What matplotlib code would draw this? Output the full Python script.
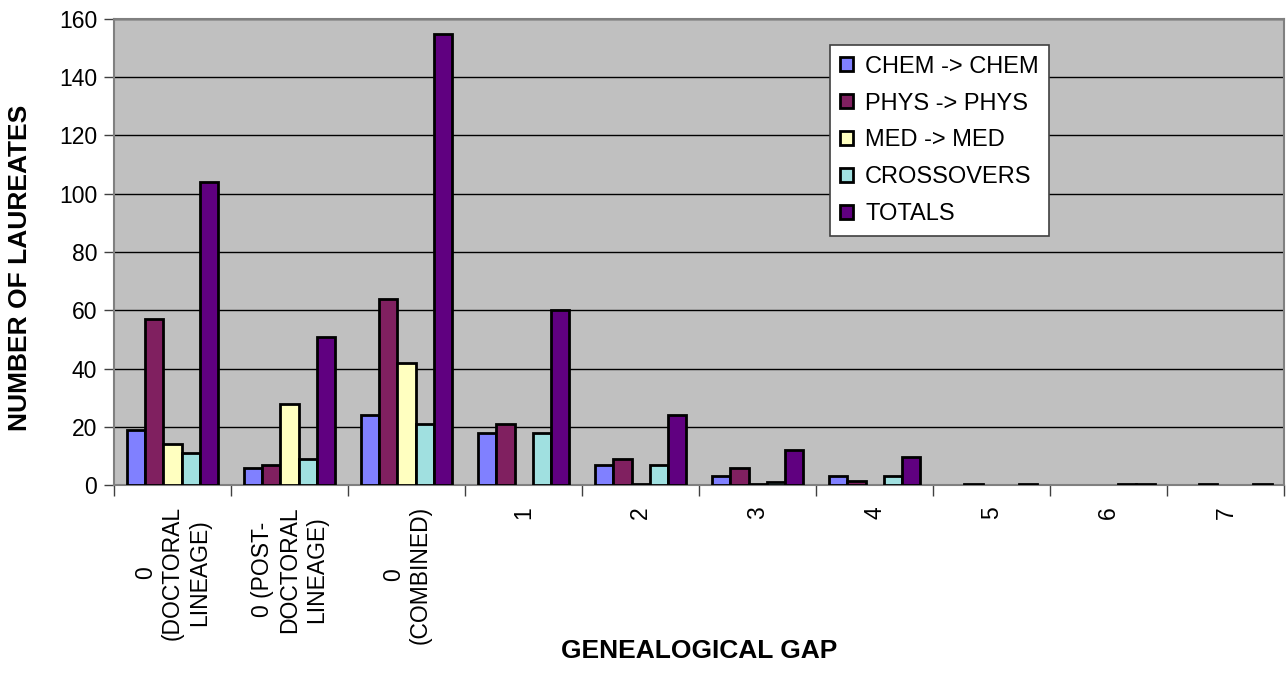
import numpy as np
import matplotlib
matplotlib.use("Agg")
import matplotlib.pyplot as plt
from matplotlib.ticker import FixedLocator

plt.rcParams["font.family"] = ["Liberation Sans", "DejaVu Sans"]

categories = ["0\n(DOCTORAL\nLINEAGE)", "0 (POST-\nDOCTORAL\nLINEAGE)", "0\n(COMBINED)",
              "1", "2", "3", "4", "5", "6", "7"]
series_names = ["CHEM -> CHEM", "PHYS -> PHYS", "MED -> MED", "CROSSOVERS", "TOTALS"]
chem = [19, 6, 24, 18, 7, 3, 3, np.nan, np.nan, np.nan]
phys = [57, 7, 64, 21, 9, 6, 1.5, 0.5, np.nan, 0.5]
med = [14, 28, 42, np.nan, 0.5, 0.5, np.nan, np.nan, np.nan, np.nan]
cross = [11, 9, 21, 18, 7, 1, 3, np.nan, 0.5, np.nan]
totals = [104, 51, 155, 60, 24, 12, 9.5, 0.5, 0.5, 0.5]
colors = ["#8080ff", "#802060", "#ffffc0", "#a0e0e0", "#600080"]

fig = plt.figure(figsize=(12.87, 6.90), dpi=100)
ax = fig.add_axes([0.0886, 0.297, 0.9094, 0.6755])
ax.set_facecolor("#c0c0c0")

x = np.arange(len(categories))
width = 0.156
for i, (name, vals) in enumerate(zip(series_names, [chem, phys, med, cross, totals])):
    ax.bar(x + (i - 2) * width, vals, width, color=colors[i], edgecolor="black",
           linewidth=2.0, label=name, zorder=3)

ax.set_xlim(-0.5, len(categories) - 0.5)
ax.set_ylim(0, 160)
ax.set_yticks(range(0, 161, 20))
ax.yaxis.grid(True, color="black", linewidth=1.0, zorder=1)
ax.tick_params(axis="y", labelsize=16.5, length=7, width=1, color="#404040", pad=5)

ax.set_xticks(x)
ax.set_xticklabels(categories, rotation=90, fontsize=16.5, multialignment="center",
                   linespacing=1.2)
ax.tick_params(axis="x", which="major", length=0, pad=15)
ax.xaxis.set_minor_locator(FixedLocator(np.arange(-0.5, len(categories), 1.0)))
ax.tick_params(axis="x", which="minor", length=8, width=1, color="#404040")

for s in ax.spines.values():
    s.set_color("#808080")
    s.set_linewidth(1.5)

ax.set_xlabel("GENEALOGICAL GAP", fontsize=19, fontweight="bold")
ax.xaxis.set_label_coords(0.5, -0.33)
ax.set_ylabel("NUMBER OF LAUREATES", fontsize=19, fontweight="bold")
ax.yaxis.set_label_coords(-0.070, 0.466)

leg = ax.legend(loc="upper left", bbox_to_anchor=(0.6114, 0.944), borderaxespad=0,
                fontsize=17, frameon=True, fancybox=False, edgecolor="#404040",
                framealpha=1, handlelength=0.55, handleheight=0.55, handletextpad=0.5,
                labelspacing=0.63, borderpad=0.45)
leg.get_frame().set_linewidth(1.2)

fig.savefig("out.png", dpi=100)
